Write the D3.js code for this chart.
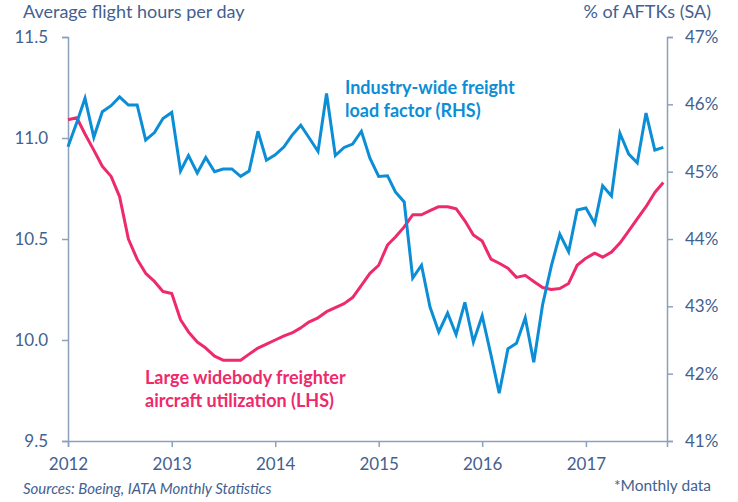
<!DOCTYPE html>
<html>
<head>
<meta charset="utf-8">
<script src="https://cdn.jsdelivr.net/npm/d3@7"></script>
<style>
  body { margin: 0; background: #fff; }
  svg text { font-family: Lato, "Open Sans", sans-serif; }
</style>
</head>
<body>
<svg id="chart"></svg>
<script>
// monthly data, Jan 2012 .. Oct 2017
const startYear = 2012;

// large widebody freighter utilization, flight hours per day (LHS)
const utilization = [
  11.09, 11.10, 11.02, 10.94, 10.86, 10.81, 10.71, 10.50, 10.40, 10.33, 10.29, 10.24,
  10.23, 10.10, 10.04, 9.99, 9.96, 9.92, 9.90, 9.90, 9.90, 9.93, 9.96, 9.98,
  10.00, 10.02, 10.035, 10.06, 10.09, 10.11, 10.14, 10.16, 10.18, 10.21, 10.27, 10.33,
  10.37, 10.47, 10.51, 10.56, 10.62, 10.62, 10.64, 10.66, 10.66, 10.65, 10.59, 10.52,
  10.49, 10.40, 10.38, 10.355, 10.31, 10.32, 10.29, 10.26, 10.25, 10.255, 10.28, 10.37,
  10.405, 10.43, 10.41, 10.435, 10.48, 10.54, 10.60, 10.66, 10.73, 10.78
];

// industry-wide freight load factor, % of AFTKs (RHS)
const loadFactor = [
  45.37, 45.73, 46.09, 45.51, 45.89, 45.98, 46.11, 45.99, 45.99, 45.47, 45.58, 45.79,
  45.88, 45.01, 45.24, 44.98, 45.21, 45.00, 45.04, 45.04, 44.93, 45.01, 45.60, 45.17,
  45.25, 45.37, 45.54, 45.69, 45.50, 45.30, 46.16, 45.24, 45.36, 45.41, 45.60, 45.20,
  44.93, 44.94, 44.70, 44.55, 43.42, 43.61, 42.99, 42.62, 42.90, 42.58, 43.06, 42.47,
  42.86, 42.28, 41.71, 42.37, 42.45, 42.83, 42.17, 43.02, 43.60, 44.07, 43.81, 44.43,
  44.46, 44.23, 44.79, 44.64, 45.57, 45.26, 45.13, 45.87, 45.32, 45.36
];

const leftTicks = [9.5, 10.0, 10.5, 11.0, 11.5];
const rightTicks = [41, 42, 43, 44, 45, 46, 47];
const yearTicks = [2012, 2013, 2014, 2015, 2016, 2017];

const width = 738, height = 502;
const margin = { top: 37, right: 71, bottom: 61, left: 68 };

const textColor = '#43618f';
const axisColor = '#8da1bd';
const blue = '#0b8ed6';
const red = '#ee2a6b';

const svg = d3.select('#chart')
  .attr('width', width)
  .attr('height', height);

const monthDate = i => new Date(startYear, i, 1);

const x = d3.scaleTime()
  .domain([new Date(2012, 0, 1), new Date(2017, 9, 14)])
  .range([margin.left, width - margin.right]);

const yLeft = d3.scaleLinear()
  .domain([9.5, 11.5])
  .range([height - margin.bottom, margin.top]);

const yRight = d3.scaleLinear()
  .domain([41, 47])
  .range([height - margin.bottom, margin.top]);

// axes
const styleAxis = g => {
  g.select('.domain').attr('stroke', axisColor).attr('stroke-width', 1.5);
  g.selectAll('.tick line').attr('stroke', axisColor).attr('stroke-width', 1.5);
  g.selectAll('.tick text')
    .attr('fill', textColor)
    .style('font-size', '17px');
};

svg.append('g')
  .attr('transform', `translate(${margin.left},0)`)
  .call(d3.axisLeft(yLeft).tickValues(leftTicks).tickFormat(d3.format('.1f')).tickSizeOuter(0).tickSize(6).tickPadding(14))
  .call(styleAxis);

svg.append('g')
  .attr('transform', `translate(${width - margin.right},0)`)
  .call(d3.axisRight(yRight).tickValues(rightTicks).tickFormat(d => d + '%').tickSizeOuter(0).tickSize(6).tickPadding(12))
  .call(styleAxis);

svg.append('g')
  .attr('transform', `translate(0,${height - margin.bottom})`)
  .call(d3.axisBottom(x).tickValues(yearTicks.map(yr => new Date(yr, 0, 1))).tickFormat(d3.timeFormat('%Y')).tickSizeOuter(0).tickSize(6).tickPadding(11))
  .call(styleAxis);

// lines
const lineLeft = d3.line()
  .x((d, i) => x(monthDate(i)))
  .y(d => yLeft(d));

const lineRight = d3.line()
  .x((d, i) => x(monthDate(i)))
  .y(d => yRight(d));

svg.append('path')
  .datum(utilization)
  .attr('fill', 'none')
  .attr('stroke', red)
  .attr('stroke-width', 3)
  .attr('stroke-linejoin', 'round')
  .attr('d', lineLeft);

svg.append('path')
  .datum(loadFactor)
  .attr('fill', 'none')
  .attr('stroke', blue)
  .attr('stroke-width', 3)
  .attr('stroke-linejoin', 'miter')
  .attr('d', lineRight);

// axis titles
svg.append('text')
  .attr('x', 23).attr('y', 18)
  .attr('fill', textColor)
  .style('font-size', '18px')
  .text('Average flight hours per day');

svg.append('text')
  .attr('x', 711).attr('y', 18)
  .attr('text-anchor', 'end')
  .attr('fill', textColor)
  .style('font-size', '18px')
  .text('% of AFTKs (SA)');

// series labels
const blueLabel = svg.append('text')
  .attr('fill', blue)
  .style('font-size', '18px')
  .style('font-weight', 'bold');
blueLabel.append('tspan').attr('x', 345).attr('y', 94).text('Industry-wide freight');
blueLabel.append('tspan').attr('x', 345).attr('y', 117).text('load factor (RHS)');

const redLabel = svg.append('text')
  .attr('fill', red)
  .style('font-size', '18px')
  .style('font-weight', 'bold');
redLabel.append('tspan').attr('x', 145).attr('y', 384).text('Large widebody freighter');
redLabel.append('tspan').attr('x', 145).attr('y', 407).text('aircraft utilization (LHS)');

// footnotes
svg.append('text')
  .attr('x', 23).attr('y', 494)
  .attr('fill', textColor)
  .style('font-size', '15px')
  .style('font-style', 'italic')
  .text('Sources: Boeing, IATA Monthly Statistics');

svg.append('text')
  .attr('x', 711).attr('y', 491)
  .attr('text-anchor', 'end')
  .attr('fill', textColor)
  .style('font-size', '15.5px')
  .text('*Monthly data');
</script>
</body>
</html>
